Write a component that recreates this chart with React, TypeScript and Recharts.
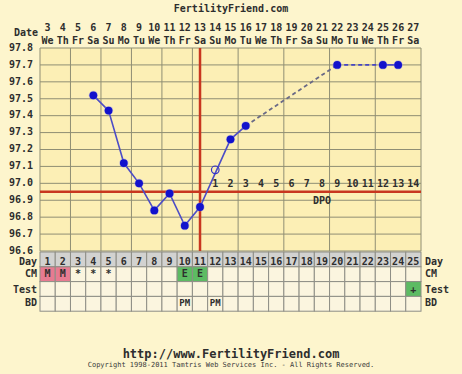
import React from 'react';
import {
  ComposedChart, Line, Scatter, XAxis, YAxis, CartesianGrid, ReferenceLine, ReferenceDot,
} from 'recharts';

const days = [1,2,3,4,5,6,7,8,9,10,11,12,13,14,15,16,17,18,19,20,21,22,23,24,25];
const dates = [3,4,5,6,7,8,9,10,11,12,13,14,15,16,17,18,19,20,21,22,23,24,25,26,27];
const weekdays = ['We','Th','Fr','Sa','Su','Mo','Tu','We','Th','Fr','Sa','Su','Mo','Tu','We','Th','Fr','Sa','Su','Mo','Tu','We','Th','Fr','Sa'];
const temps: (number | null)[] = [null,null,null,97.52,97.43,97.12,97.0,96.84,96.94,96.75,96.86,97.08,97.26,97.34,null,null,null,null,null,97.7,null,null,97.7,97.7,null];
const discardedDays = [12];
const solidDays1 = [4,5,6,7,8,9,10,11,13,14];
const dashedDays1 = [14,20];
const dashedDays2 = [20,23];
const solidDays2 = [23,24];
const dpo = ['','','','','','','','','','','','1','2','3','4','5','6','7','8','9','10','11','12','13','14'];
const cm = ['M','M','*','*','*','','','','','E','E','','','','','','','','','','','','','',''];
const test = ['','','','','','','','','','','','','','','','','','','','','','','','','+'];
const bd = ['','','','','','','','','','PM','','PM','','','','','','','','','','','','',''];
const yTicks = [96.6,96.7,96.8,96.9,97.0,97.1,97.2,97.3,97.4,97.5,97.6,97.7,97.8];
const coverline = 96.95;
const ovulationDay = 11;
const gridBounds = [0.5,1.5,2.5,3.5,4.5,5.5,6.5,7.5,8.5,9.5,10.5,11.5,12.5,13.5,14.5,15.5,16.5,17.5,18.5,19.5,20.5,21.5,22.5,23.5,24.5,25.5];

const pick = (list: number[]) => (d: number) => (list.includes(d) ? temps[d - 1] : null);

const chartData = days.map((d) => ({
  day: d,
  s1: pick(solidDays1)(d),
  d1: pick(dashedDays1)(d),
  d2: pick(dashedDays2)(d),
  s2: pick(solidDays2)(d),
}));

const dotData = days
  .map((d, i) => ({ day: d, temp: temps[i], open: discardedDays.includes(d) }))
  .filter((p) => p.temp !== null);

const dpoData = days
  .map((d, i) => ({ day: d, y: 97.0, label: dpo[i] }))
  .filter((p) => p.label !== '');

const FONT = '"DejaVu Sans Mono", monospace';
const TXT = '#2e2e2e';
const CELL_W = 381 / 25;
const ROW_H = 14.8;
const cellColor: Record<string, string> = { M: '#e77b91', E: '#5dbb63', '+': '#5dbb63' };

const txtStyle = { fontFamily: FONT, fontWeight: 'bold' as const, fontSize: 10, fill: TXT };
const rowBase = [12.5, 10.5, 11, 10];

function TableTick(props: any) {
  const { x, y, payload, index } = props;
  const i = payload.value - 1;
  const left = x - CELL_W / 2;
  const top = y + 1;
  const rows = [
    { v: String(days[i]), bg: '#d2d2d0' },
    { v: cm[i], bg: cellColor[cm[i]] || '#fbf5df' },
    { v: test[i], bg: cellColor[test[i]] || '#fbf5df' },
    { v: bd[i], bg: '#fbf5df' },
  ];
  const names = ['Day', 'CM', 'Test', 'BD'];
  return (
    <g>
      {rows.map((r, k) => (
        <g key={k}>
          <rect x={left} y={top + k * ROW_H} width={CELL_W} height={ROW_H} fill={r.bg} stroke="#8e8e86" strokeWidth={1} />
          <text x={x} y={top + k * ROW_H + rowBase[k]} textAnchor="middle" style={{ ...txtStyle, fontSize: r.v === 'PM' ? 9 : 10 }}>{r.v}</text>
        </g>
      ))}
      {index === 0 && names.map((n, k) => (
        <text key={'l' + k} x={left - 3} y={top + k * ROW_H + rowBase[k]} textAnchor="end" style={txtStyle}>{n}</text>
      ))}
      {i === days.length - 1 && names.map((n, k) => (
        <text key={'r' + k} x={left + CELL_W + 4} y={top + k * ROW_H + rowBase[k]} textAnchor="start" style={txtStyle}>{n}</text>
      ))}
    </g>
  );
}

function DateTick(props: any) {
  const { x, y, payload } = props;
  const i = payload.value - 1;
  return (
    <g>
      <text x={x} y={y - 17.5} textAnchor="middle" style={txtStyle}>{dates[i]}</text>
      <text x={x} y={y - 4.5} textAnchor="middle" style={txtStyle}>{weekdays[i]}</text>
    </g>
  );
}

function LeftYTick(props: any) {
  const { x, y, payload } = props;
  return <text x={x - 7} y={y + 2.8} textAnchor="end" style={txtStyle}>{Number(payload.value).toFixed(1)}</text>;
}

function RightYTick(props: any) {
  const { x, y, payload } = props;
  return <text x={x + 4} y={y + 2.8} textAnchor="start" style={txtStyle}>{Number(payload.value).toFixed(1)}</text>;
}

function TempDot(props: any) {
  const { cx, cy, payload } = props;
  if (typeof cx !== 'number' || typeof cy !== 'number') return null;
  if (payload.open) {
    return <circle cx={cx} cy={cy} r={3.8} fill="none" stroke="#3434c8" strokeWidth={1.2} />;
  }
  return (
    <g>
      <circle cx={cx} cy={cy} r={4.6} fill="#8a8ae8" opacity={0.45} />
      <circle cx={cx} cy={cy} r={3.9} fill="#1212cc" />
    </g>
  );
}

function DpoText(props: any) {
  const { cx, cy, payload } = props;
  if (typeof cx !== 'number' || typeof cy !== 'number') return null;
  return <text x={cx} y={cy + 3.5} textAnchor="middle" style={txtStyle}>{payload.label}</text>;
}

export default function App() {
  return (
    <div style={{ position: 'fixed', left: 0, top: 0, width: 462, height: 374, background: '#fdf5cd', overflow: 'hidden' }}>
      <div style={{ position: 'absolute', left: 0, top: 3, width: 462, textAlign: 'center', fontFamily: FONT, fontWeight: 'bold', fontSize: 10, color: TXT }}>FertilityFriend.com</div>
      <div style={{ position: 'absolute', left: 14, top: 27, fontFamily: FONT, fontWeight: 'bold', fontSize: 10, color: TXT }}>Date</div>
      <ComposedChart width={462} height={374} data={chartData} margin={{ top: 0, right: 0, bottom: 0, left: 0 }} style={{ position: 'absolute', left: 0, top: 0 }}>
        <XAxis xAxisId="main" dataKey="day" type="number" domain={[0.5, 25.5]} allowDataOverflow ticks={days} orientation="bottom" height={123}
          axisLine={false} tickLine={false} tickSize={0} tickMargin={0} interval={0} tick={<TableTick />} />
        <XAxis xAxisId="top" dataKey="day" type="number" domain={[0.5, 25.5]} allowDataOverflow ticks={days} orientation="top" height={48}
          axisLine={false} tickLine={false} tickSize={0} tickMargin={0} interval={0} tick={<DateTick />} />
        <XAxis xAxisId="grid" dataKey="day" type="number" domain={[0.5, 25.5]} allowDataOverflow ticks={gridBounds} orientation="bottom" height={0} hide />
        <YAxis yAxisId="left" type="number" domain={[96.6, 97.8]} ticks={yTicks} width={40} orientation="left"
          axisLine={false} tickLine={false} tickSize={0} tickMargin={0} interval={0} tick={<LeftYTick />} />
        <YAxis yAxisId="right" type="number" domain={[96.6, 97.8]} ticks={yTicks} width={41} orientation="right"
          axisLine={false} tickLine={false} tickSize={0} tickMargin={0} interval={0} tick={<RightYTick />} />
        <CartesianGrid xAxisId="grid" yAxisId="left" stroke="#8f8e74" strokeWidth={1} fill="#fcefb5" fillOpacity={1} />
        <ReferenceLine xAxisId="main" yAxisId="left" y={coverline} stroke="#c8361f" strokeWidth={2.5} />
        <ReferenceLine xAxisId="main" yAxisId="left" x={ovulationDay} stroke="#c8361f" strokeWidth={2.5} />
        <Scatter xAxisId="main" yAxisId="left" data={dpoData} dataKey="y" shape={<DpoText />} isAnimationActive={false} />
        <ReferenceDot xAxisId="main" yAxisId="left" x={19} y={96.9} r={0} stroke="none" fill="none"
          label={{ value: 'DPO', position: 'center', style: txtStyle }} />
        <Line xAxisId="main" yAxisId="left" dataKey="s1" stroke="#4d4dc6" strokeWidth={1.6} dot={false} connectNulls isAnimationActive={false} />
        <Line xAxisId="main" yAxisId="left" dataKey="d1" stroke="#6a6a86" strokeWidth={1.8} strokeDasharray="4 3" dot={false} connectNulls isAnimationActive={false} />
        <Line xAxisId="main" yAxisId="left" dataKey="d2" stroke="#4646c4" strokeWidth={1.8} strokeDasharray="4 3" dot={false} connectNulls isAnimationActive={false} />
        <Line xAxisId="main" yAxisId="left" dataKey="s2" stroke="#4d4dc6" strokeWidth={1.6} dot={false} connectNulls isAnimationActive={false} />
        <Scatter xAxisId="main" yAxisId="left" data={dotData} dataKey="temp" shape={<TempDot />} isAnimationActive={false} />
      </ComposedChart>
      <div style={{ position: 'absolute', left: 0, top: 347, width: 462, textAlign: 'center', fontFamily: FONT, fontWeight: 'bold', fontSize: 12, color: TXT }}>http://www.FertilityFriend.com</div>
      <div style={{ position: 'absolute', left: 0, top: 361, width: 462, textAlign: 'center', fontFamily: FONT, fontSize: 7, color: '#3a3a3a' }}>Copyright 1998-2011 Tamtris Web Services Inc. - All Rights Reserved.</div>
    </div>
  );
}
